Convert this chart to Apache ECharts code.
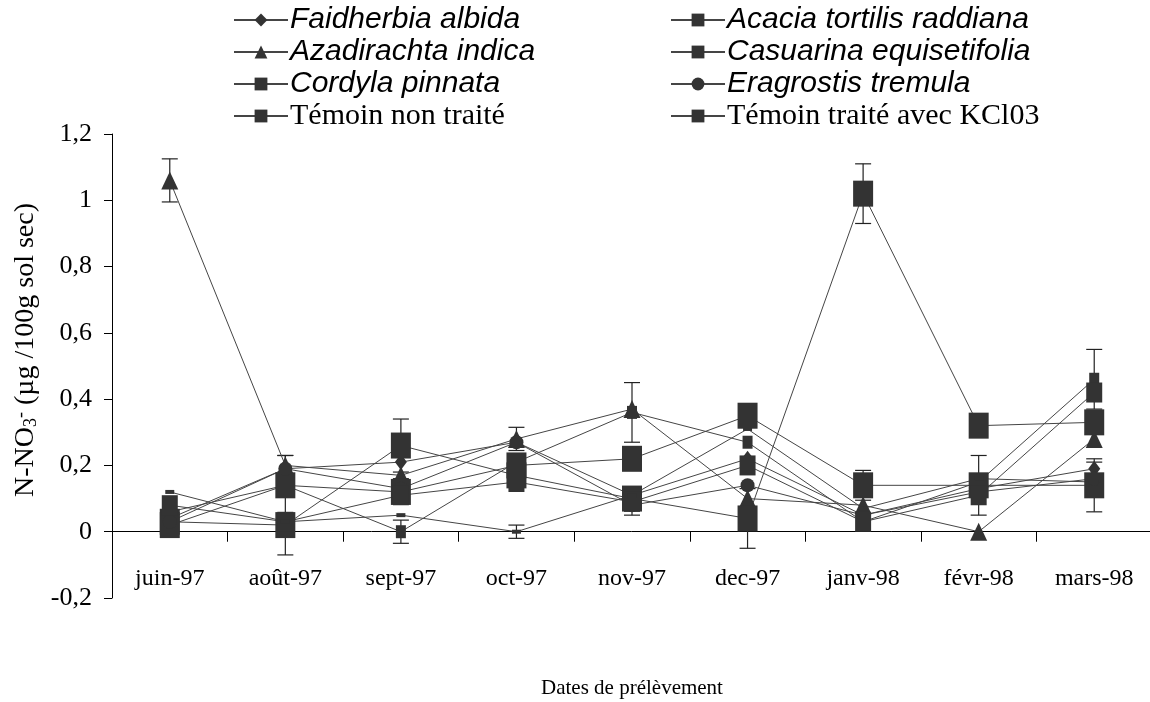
<!DOCTYPE html>
<html><head><meta charset="utf-8">
<script src="https://cdn.jsdelivr.net/npm/echarts@6/dist/echarts.min.js"></script>
<style>html,body{margin:0;padding:0;background:#fff}#c{width:1150px;height:702px}</style>
</head><body><div id="c"></div>
<script>
const categories = ['juin-97','août-97','sept-97','oct-97','nov-97','dec-97','janv-98','févr-98','mars-98'];
const yTicks = [-0.2, 0, 0.2, 0.4, 0.6, 0.8, 1, 1.2];

const faidherbia   = [0.04, 0.19, 0.21, 0.27, 0.11, 0.22, 0.05, 0.13, 0.19];
const acacia       = [0.06, 0.14, 0.00, 0.21, 0.36, 0.27, 0.03, 0.15, 0.46];
const azadirachta  = [1.06, 0.20, 0.17, 0.28, 0.37, 0.10, 0.08, 0.00, 0.28];
const casuarina    = [0.03, 0.02, 0.26, 0.17, 0.10, 0.04, 1.02, 0.32, 0.33];
const cordyla      = [0.02, 0.14, 0.12, 0.20, 0.22, 0.35, 0.14, 0.14, 0.14];
const eragrostis   = [0.03, 0.19, 0.13, 0.27, 0.08, 0.14, 0.05, 0.12, 0.16];
const temoinNT     = [0.08, 0.03, 0.11, 0.15, 0.09, 0.20, 0.03, 0.11, 0.42];
const temoinKCl    = [0.12, 0.03, 0.05, 0.00, 0.11, 0.31, 0.07, 0.16, 0.15];

// error half-widths (0 = none visible)
const errFaidherbia  = [0, 0.04, 0.05, 0, 0, 0, 0, 0, 0.02];
const errAcacia      = [0, 0, 0.035, 0, 0.09, 0, 0, 0, 0.09];
const errAzadirachta = [0.065, 0.03, 0, 0.035, 0, 0, 0, 0, 0];
const errCasuarina   = [0, 0.09, 0.08, 0, 0, 0.09, 0.09, 0, 0];
const errCordyla     = [0, 0, 0, 0, 0, 0, 0.045, 0.09, 0.08];
const errEragrostis  = [0, 0, 0, 0, 0, 0, 0, 0, 0];
const errTemoinNT    = [0, 0, 0, 0, 0.04, 0, 0, 0, 0];
const errTemoinKCl   = [0, 0, 0, 0.02, 0, 0, 0, 0, 0];

const names = ['Faidherbia albida','Acacia tortilis raddiana','Azadirachta indica','Casuarina equisetifolia',
  'Cordyla pinnata','Eragrostis tremula','Témoin non traité','Témoin traité avec KCl03'];
const values = [faidherbia, acacia, azadirachta, casuarina, cordyla, eragrostis, temoinNT, temoinKCl];
const errors = [errFaidherbia, errAcacia, errAzadirachta, errCasuarina, errCordyla, errEragrostis, errTemoinNT, errTemoinKCl];
const symbols = ['diamond','rect','triangle','rect','rect','circle','rect','rect'];
const sizes = [[12,16],[10,13],[17,18],[20,26],[20,26],[14,14],[16,20],[9,4]];

const MARK = '#333333', LINE = '#454545';
const series = names.map((n,i)=>({
  name:n, type:'line', data: values[i], symbol: symbols[i], symbolSize: sizes[i],
  itemStyle:{color:MARK, borderWidth:0}, lineStyle:{color:LINE, width:1},
  emphasis:{disabled:true}, animation:false, z: 3
}));
const errData = [];
errors.forEach((arr,i)=>arr.forEach((e,j)=>{ if(e>0) errData.push([j, values[i][j], e]); }));
series.push({
  type:'custom', name:'err', data: errData, z: 2, animation:false, silent:true,
  renderItem:(params, api)=>{
    const x = api.value(0), v = api.value(1), e = api.value(2);
    const top = api.coord([x, v+e]), bot = api.coord([x, v-e]);
    const st = {stroke:'#222', lineWidth:1.2};
    return {type:'group', children:[
      {type:'line', shape:{x1:top[0],y1:top[1],x2:bot[0],y2:bot[1]}, style:st},
      {type:'line', shape:{x1:top[0]-8,y1:top[1],x2:top[0]+8,y2:top[1]}, style:st},
      {type:'line', shape:{x1:bot[0]-8,y1:bot[1],x2:bot[0]+8,y2:bot[1]}, style:st}
    ]};
  }
});

const legendRich = {
  i:{fontFamily:'"Liberation Sans Narrow","Liberation Sans",sans-serif', fontStyle:'italic', fontSize:30, color:'#000'},
  s:{fontFamily:'"Liberation Serif",serif', fontSize:30, color:'#000'}
};
const legendFmt = n => n.startsWith('Témoin') ? '{s|'+n+'}' : '{i|'+n+'}';
const legendBase = {orient:'vertical', itemWidth:54, itemHeight:16, itemGap:2, top:0,
  textStyle:{rich:legendRich, lineHeight:30, padding:[0,0,0,-3]}, formatter: legendFmt, selectedMode:false};

const chart = echarts.init(document.getElementById('c'), null, {renderer:'canvas'});
chart.setOption({
  backgroundColor:'#fff',
  animation:false,
  legend:[
    Object.assign({}, legendBase, {left:228, data:[names[0],names[2],names[4],names[6]]}),
    Object.assign({}, legendBase, {left:665, data:[names[1],names[3],names[5],names[7]]})
  ],
  grid:{left:112, top:134, width:1040, height:464, outerBoundsMode:'none', containLabel:false},
  xAxis:{type:'category', data:categories, boundaryGap:true,
    axisLine:{onZero:true, lineStyle:{color:'#000', width:1}},
    axisTick:{show:true, length:10, inside:false, alignWithLabel:false, lineStyle:{color:'#000'}},
    axisLabel:{margin:-31, fontFamily:'"Liberation Serif",serif', fontSize:24, color:'#000', interval:0},
    splitLine:{show:false},
    name:'Dates de prélèvement', nameLocation:'middle', nameGap:80,
    nameTextStyle:{fontFamily:'"Liberation Serif",serif', fontSize:21, color:'#000'}},
  yAxis:{type:'value', min:yTicks[0], max:yTicks[yTicks.length-1], interval:0.2,
    axisLine:{show:true, lineStyle:{color:'#000'}},
    axisTick:{show:true, length:8, lineStyle:{color:'#000'}},
    splitLine:{show:false},
    axisLabel:{margin:20, fontFamily:'"Liberation Serif",serif', fontSize:26, color:'#000',
      formatter: v => String(Math.round(v*10)/10).replace('.', ',')},
    name:'N-NO{sub|3}{sup|-} (µg /100g sol sec)', nameLocation:'middle', nameGap:72, nameRotate:90,
    nameTextStyle:{fontFamily:'"Liberation Serif",serif', fontSize:28, color:'#000', padding:[0,0,0,32],
      rich:{sub:{fontFamily:'"Liberation Serif",serif', fontSize:18, verticalAlign:'bottom', padding:[8,0,0,0]},
            sup:{fontFamily:'"Liberation Serif",serif', fontSize:18, padding:[0,0,10,0]}}}},
  series: series
});
</script></body></html>
